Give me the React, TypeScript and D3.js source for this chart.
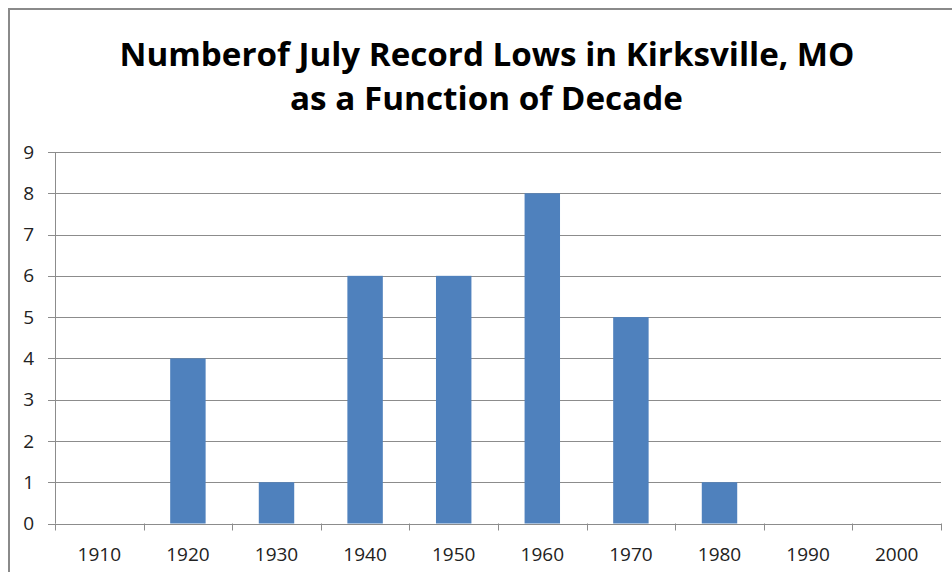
import React from "react";
import * as d3 from "d3";

const decades = ["1910", "1920", "1930", "1940", "1950", "1960", "1970", "1980", "1990", "2000"];
const recordLows = [0, 4, 1, 6, 6, 8, 5, 1, 0, 0];
const yTicks = [0, 1, 2, 3, 4, 5, 6, 7, 8, 9];
const titleLines = ["Numberof July Record Lows in Kirksville, MO", "as a Function of Decade"];

const W = 952;
const H = 572;
const plot = { left: 55, right: 941, top: 152, bottom: 523.5 };

export default function App() {
  const x = d3.scaleBand<string>().domain(decades).range([plot.left, plot.right]).paddingInner(0.6).paddingOuter(0.3);
  const xTickScale = d3.scaleLinear().domain([0, decades.length]).range([plot.left, plot.right]);
  const y = d3.scaleLinear().domain([0, 9]).range([plot.bottom, plot.top]);
  const font = "'Open Sans', 'Noto Sans', sans-serif";
  const grid = "#8c8c8c";

  return (
    <div style={{ position: "absolute", left: 0, top: 0, width: W, height: H, background: "#fff" }}>
      <svg width={W} height={H} style={{ display: "block" }}>
        <rect x={0} y={0} width={W} height={H} fill="#fff" />
        {/* chart frame */}
        <line x1={9} y1={9} x2={W} y2={9} stroke="#8a8a8a" strokeWidth={2} />
        <line x1={9} y1={8} x2={9} y2={H} stroke="#8a8a8a" strokeWidth={2} />

        {/* title */}
        <text x={487} y={65.5} textAnchor="middle" fontFamily={font} fontWeight={700} fontSize={33} fill="#000"
          textLength={735} lengthAdjust="spacingAndGlyphs">{titleLines[0]}</text>
        <text x={486.5} y={110} textAnchor="middle" fontFamily={font} fontWeight={700} fontSize={33} fill="#000"
          textLength={393} lengthAdjust="spacingAndGlyphs">{titleLines[1]}</text>

        {/* gridlines and y ticks */}
        {yTicks.map((t) => (
          <g key={t}>
            <line x1={plot.left - 7} x2={plot.right} y1={Math.round(y(t)) + 0.5} y2={Math.round(y(t)) + 0.5} stroke={grid} strokeWidth={1} />
            <text x={34} y={y(t)} dy="0.35em" textAnchor="end" fontFamily={font} fontSize={19} fill="#222">{t}</text>
          </g>
        ))}

        {/* y axis line */}
        <line x1={plot.left + 0.5} x2={plot.left + 0.5} y1={plot.top} y2={plot.bottom} stroke={grid} strokeWidth={1} />

        {/* bars */}
        {decades.map((d, i) => (
          <rect key={d} x={x(d)} y={y(recordLows[i])} width={x.bandwidth()} height={plot.bottom - y(recordLows[i])} fill="#4F81BD" />
        ))}

        {/* x tick marks */}
        {d3.range(decades.length + 1).map((k) => (
          <line key={k} x1={Math.round(xTickScale(k)) + 0.5} x2={Math.round(xTickScale(k)) + 0.5} y1={plot.bottom} y2={plot.bottom + 7} stroke={grid} strokeWidth={1} />
        ))}

        {/* x labels */}
        {decades.map((d) => (
          <text key={d} x={(x(d) as number) + x.bandwidth() / 2} y={560.5} textAnchor="middle" fontFamily={font} fontSize={19} fill="#222">{d}</text>
        ))}
      </svg>
    </div>
  );
}
